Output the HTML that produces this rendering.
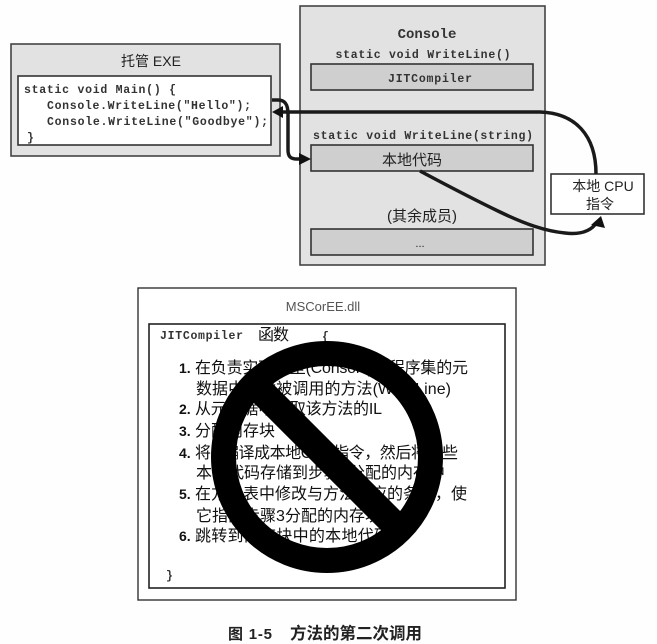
<!DOCTYPE html>
<html><head><meta charset="utf-8"><style>
html,body{margin:0;padding:0;background:#fff}
svg{display:block}
.m{font-family:"Liberation Mono","DejaVu Sans Mono",monospace;font-size:11.5px;fill:#333;font-weight:bold}
.c{font-family:"Liberation Sans","Noto Sans CJK SC",sans-serif;fill:#222}
.b{font-family:"Liberation Sans","Noto Sans CJK SC",sans-serif;fill:#111;font-size:16px}
</style></head><body>
<svg width="657" height="644" viewBox="0 0 657 644" xmlns="http://www.w3.org/2000/svg">
<rect width="657" height="644" fill="#fefefe"/>
<!-- EXE -->
<rect x="11" y="44" width="269" height="112" fill="#e2e2e2" stroke="#444" stroke-width="1.6"/>
<text x="151" y="66" class="c" font-size="14" text-anchor="middle">托管 EXE</text>
<rect x="18" y="76" width="253" height="69" fill="#fff" stroke="#333" stroke-width="1.6"/>
<text x="24" y="93" class="m" textLength="152">static void Main() {</text>
<text x="47" y="109" class="m" textLength="204">Console.WriteLine("Hello");</text>
<text x="47" y="125" class="m" textLength="221">Console.WriteLine("Goodbye");</text>
<text x="27" y="141" class="m">}</text>
<!-- Console -->
<rect x="300" y="6" width="245" height="259" fill="#e2e2e2" stroke="#444" stroke-width="1.6"/>
<text x="427" y="38" class="m" text-anchor="middle" style="font-size:14px">Console</text>
<text x="423" y="58" class="m" text-anchor="middle" textLength="175">static void WriteLine()</text>
<rect x="311" y="64" width="222" height="26" fill="#cfcfcf" stroke="#333" stroke-width="1.6"/>
<text x="430" y="82" class="m" text-anchor="middle" textLength="84">JITCompiler</text>
<text x="423" y="139" class="m" text-anchor="middle" textLength="220">static void WriteLine(string)</text>
<rect x="311" y="145" width="222" height="26" fill="#cfcfcf" stroke="#333" stroke-width="1.6"/>
<text x="412" y="165" class="c" font-size="15" text-anchor="middle">本地代码</text>
<text x="422" y="221" class="c" font-size="15" text-anchor="middle">(其余成员)</text>
<rect x="311" y="229" width="222" height="26" fill="#cfcfcf" stroke="#333" stroke-width="1.6"/>
<text x="420" y="247" class="c" font-size="11" text-anchor="middle" fill="#555">...</text>
<!-- CPU -->
<rect x="551" y="174" width="93" height="40" fill="#fff" stroke="#333" stroke-width="1.6"/>
<text x="603" y="191" class="c" font-size="14" text-anchor="middle">本地 CPU</text>
<text x="600" y="209" class="c" font-size="14" text-anchor="middle">指令</text>
<!-- connectors -->
<g fill="none" stroke="#1a1a1a" stroke-width="3.5">
<path d="M280 112 H540 C575 113 596 135 596 174"/>
<path d="M272 100 H278 C286 100 288 106 288 114 V150 C288 157 291 159 297 159 H303"/>
<path d="M420 171 C450 187 475 200 500 212 C525 224 545 231 565 233 C582 235 592 230 597 222"/>
</g>
<path d="M272 112 L283 106 V118 Z" fill="#111"/>
<path d="M311 159 L299 153 V165 Z" fill="#111"/>
<path d="M601 216 L605 228 L591 225 Z" fill="#111"/>
<!-- MSCorEE -->
<rect x="138" y="288" width="378" height="312" fill="#fff" stroke="#333" stroke-width="1.4"/>
<text x="323" y="311" class="c" font-size="13" text-anchor="middle" style="fill:#555">MSCorEE.dll</text>
<rect x="149" y="324" width="356" height="264" fill="#fff" stroke="#222" stroke-width="1.6"/>
<text x="160" y="339" class="m" textLength="83">JITCompiler</text>
<text x="258" y="340" class="b" textLength="31">函数</text>
<text x="322" y="340" class="m">{</text>
<text x="179" y="373" class="b" font-weight="bold" style="font-size:14px">1.</text><text x="195" y="373" class="b" textLength="273">在负责实现类型(Console)的程序集的元</text>
<text x="196" y="394" class="b" textLength="255">数据中查找被调用的方法(WriteLine)</text>
<text x="179" y="414" class="b" font-weight="bold" style="font-size:14px">2.</text><text x="195" y="414" class="b" textLength="187">从元数据中获取该方法的IL</text>
<text x="179" y="436" class="b" font-weight="bold" style="font-size:14px">3.</text><text x="195" y="436" class="b" textLength="80">分配内存块</text>
<text x="179" y="458" class="b" font-weight="bold" style="font-size:14px">4.</text><text x="195" y="458" class="b" textLength="263">将IL编译成本地CPU指令，然后将这些</text>
<text x="196" y="478" class="b" textLength="249">本地代码存储到步骤3分配的内存中</text>
<text x="179" y="499" class="b" font-weight="bold" style="font-size:14px">5.</text><text x="195" y="499" class="b" textLength="272">在方法表中修改与方法对应的条目，使</text>
<text x="196" y="521" class="b" textLength="185">它指向步骤3分配的内存块</text>
<text x="179" y="541" class="b" font-weight="bold" style="font-size:14px">6.</text><text x="195" y="541" class="b" textLength="195">跳转到内存块中的本地代码</text>
<text x="166" y="579" class="m">}</text>
<!-- prohibition -->
<circle cx="327" cy="457" r="103.5" fill="none" stroke="#000" stroke-width="25"/>
<line x1="255" y1="385" x2="399" y2="529" stroke="#000" stroke-width="27"/>
<!-- caption -->
<text x="228" y="639" class="c" font-size="15" font-weight="bold" textLength="44">图 1-5</text>
<text x="290" y="639" class="c" font-size="16.5" font-weight="bold" textLength="132">方法的第二次调用</text>
</svg>
</body></html>
